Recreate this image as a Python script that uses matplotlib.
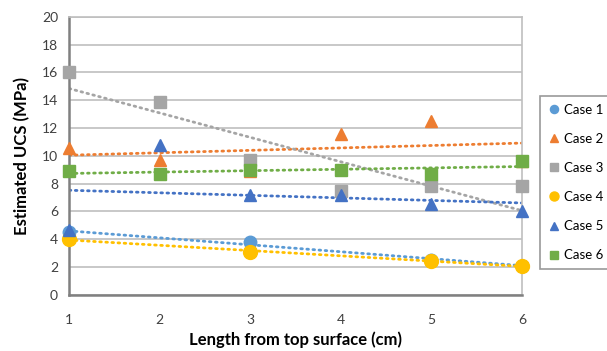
import numpy as np
import matplotlib.pyplot as plt

plt.rcParams['font.family'] = ['Lato', 'DejaVu Sans']

# lengths from top surface (cm)
x = [1, 2, 3, 4, 5, 6]

case1 = [4.5, None, 3.8, None, 2.5, 2.1]
case2 = [10.6, 9.7, 8.9, 11.6, 12.5, 9.6]
case3 = [16.0, 13.9, 9.7, 7.5, 7.8, 7.8]
case4 = [4.0, None, 3.1, None, 2.4, 2.1]
case5 = [4.7, 10.8, 7.2, 7.2, 6.5, 6.0]
case6 = [8.9, 8.7, 9.0, 9.0, 8.7, 9.6]

names = ['Case 1', 'Case 2', 'Case 3', 'Case 4', 'Case 5', 'Case 6']
series = [case1, case2, case3, case4, case5, case6]
colors = ['#5B9BD5', '#ED7D31', '#A5A5A5', '#FFC000', '#4472C4', '#70AD47']
markers = ['o', '^', 's', 'o', '^', 's']
sizes = [9, 9, 8.5, 10, 9, 8.5]

fig = plt.figure(figsize=(6.07, 3.51), dpi=100)
ax = fig.add_axes([0.114, 0.16, 0.746, 0.792])

for name, ys, c, m, s in zip(names, series, colors, markers, sizes):
    xs = np.array([a for a, b in zip(x, ys) if b is not None], dtype=float)
    vs = np.array([b for b in ys if b is not None], dtype=float)
    ax.plot(xs, vs, linestyle='none', marker=m, color=c, markersize=s,
            label=name, clip_on=False, zorder=3)
    # linear trend
    k, b0 = np.polyfit(xs, vs, 1)
    xl = np.array([1, 6])
    ax.plot(xl, k * xl + b0, color=c, lw=2, linestyle=(0, (0.6, 1.6)),
            dash_capstyle='round', zorder=2)

ax.set_xlim(1, 6)
ax.set_ylim(0, 20)
ax.set_yticks(range(0, 21, 2))
ax.set_xticks(x)
ax.grid(axis='y', color='#BFBFBF', lw=1.2)
ax.set_axisbelow(True)
ax.tick_params(length=0, labelsize=10, colors='#404040')
ax.tick_params(axis='x', pad=14)
ax.tick_params(axis='y', pad=8)
for side in ['left', 'bottom']:
    ax.spines[side].set_color('#808080')
    ax.spines[side].set_linewidth(1.8)
for side in ['right', 'top']:
    ax.spines[side].set_color('#BFBFBF')
    ax.spines[side].set_linewidth(1.2)

ax.set_xlabel('Length from top surface (cm)', fontsize=12, fontweight='bold', labelpad=4)
ax.set_ylabel('Estimated UCS (MPa)', fontsize=12, fontweight='bold', labelpad=8)

leg = ax.legend(loc='upper left', bbox_to_anchor=(1.025, 0.74), fontsize=9.5,
                frameon=True, fancybox=False, edgecolor='#808080',
                labelspacing=1.3, handletextpad=0.2, handlelength=1.0,
                borderpad=0.6, markerscale=0.65)
leg.get_frame().set_linewidth(1.2)

fig.savefig('out.png', dpi=100)
